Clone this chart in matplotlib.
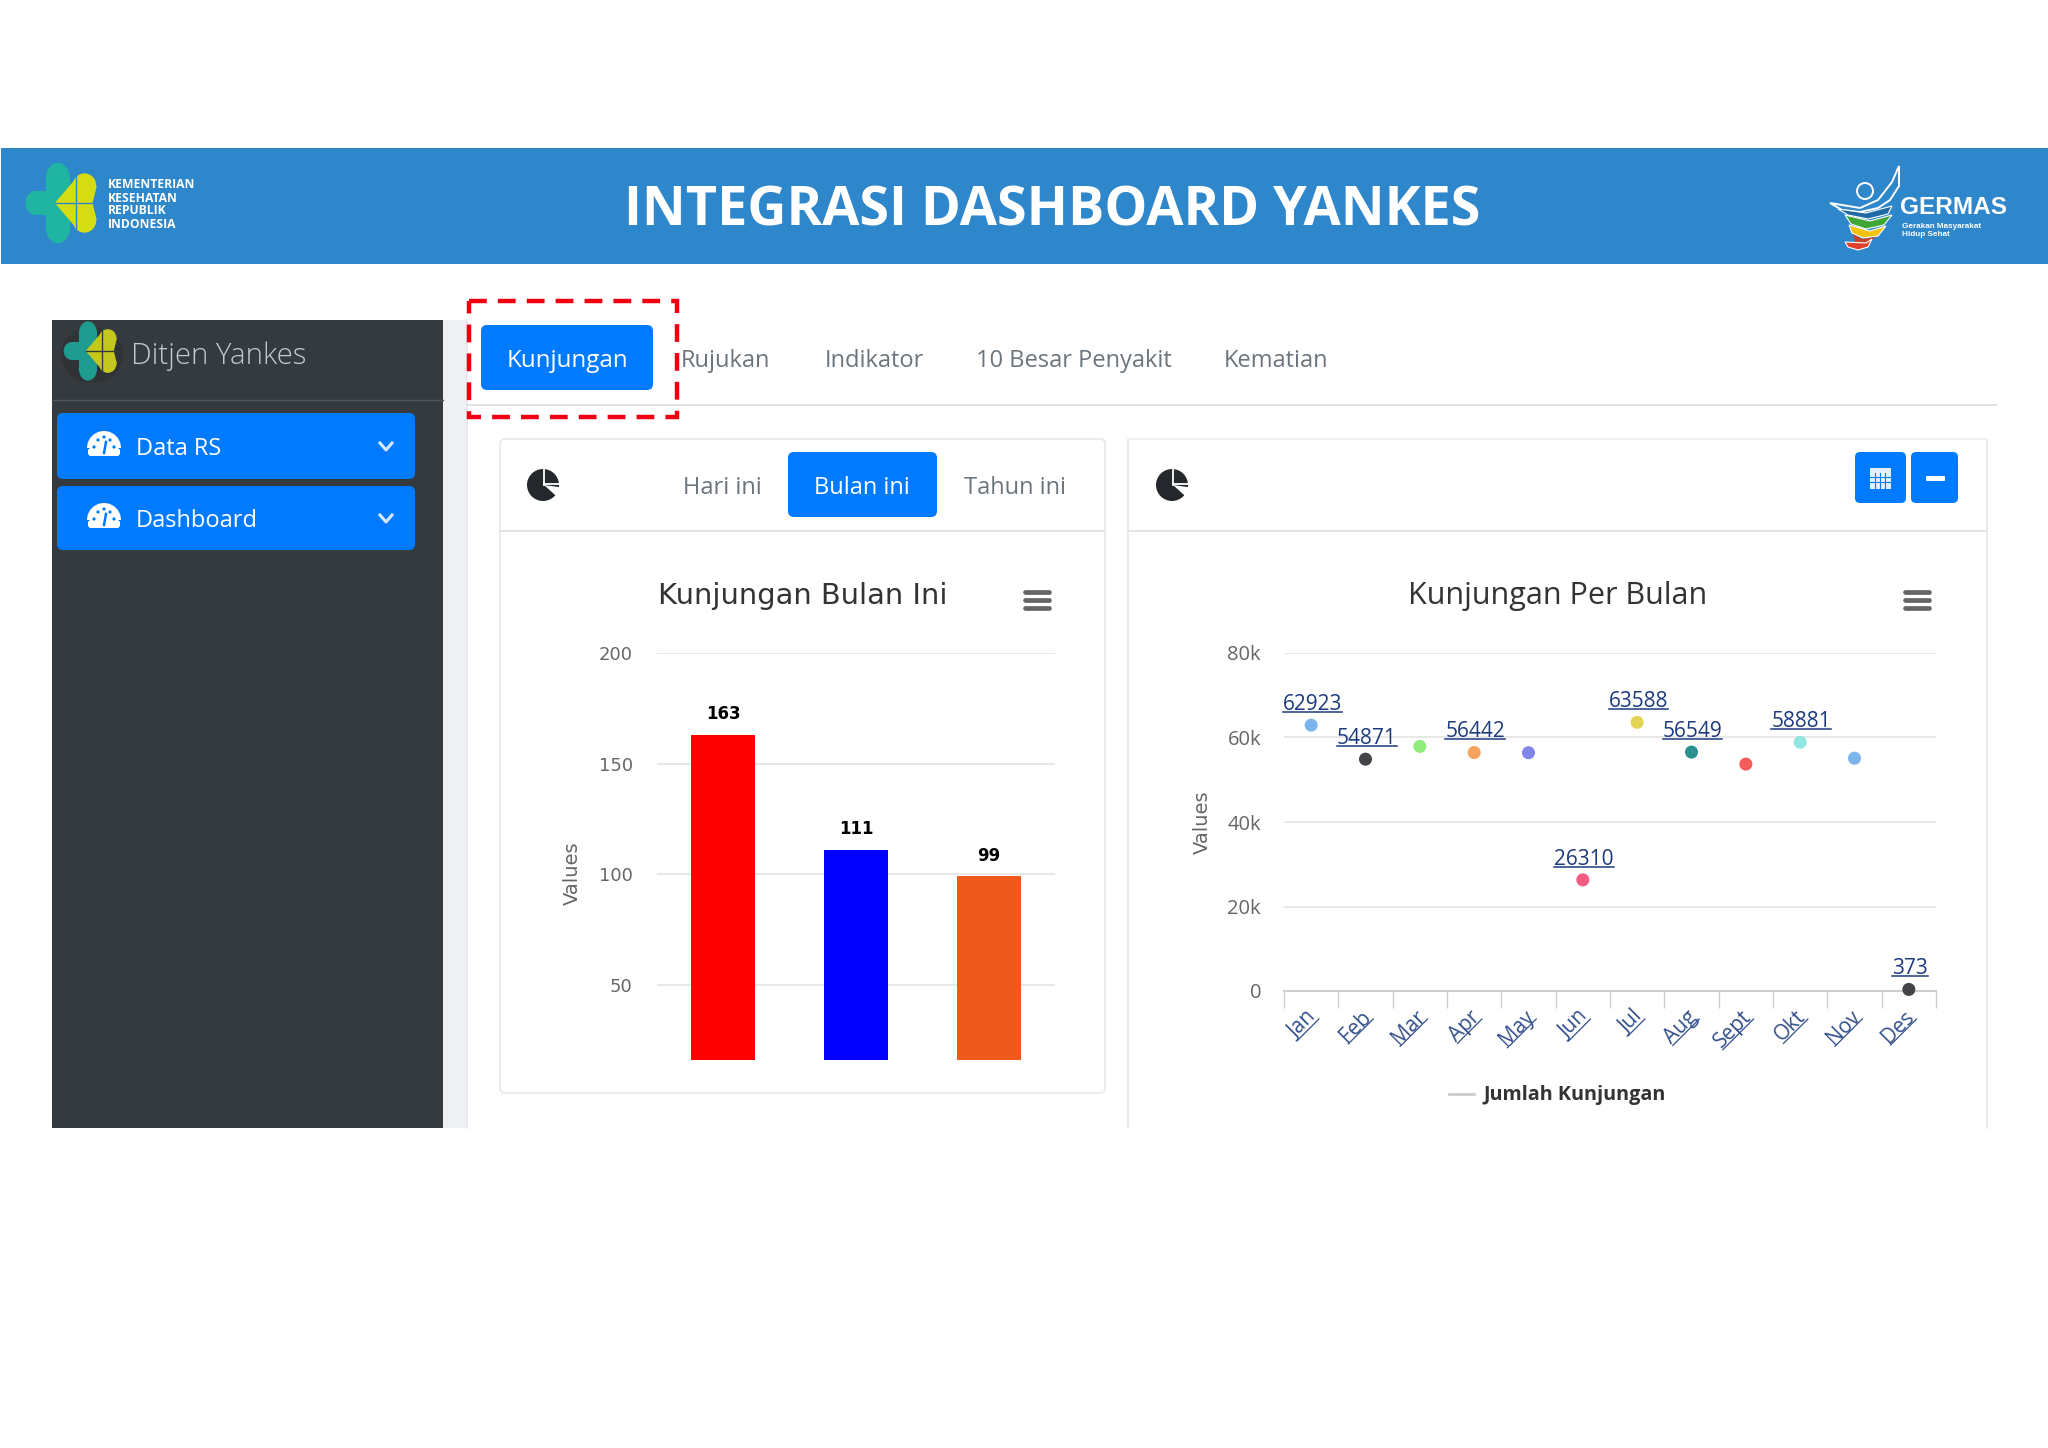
import numpy as np
import matplotlib
matplotlib.use("Agg")
import matplotlib.pyplot as plt
from matplotlib.lines import Line2D
from matplotlib.patches import Rectangle, FancyBboxPatch, Ellipse, Polygon, Wedge, Circle
from matplotlib.transforms import IdentityTransform, ScaledTranslation

# data
barValues = [163, 111, 99]
barColors = ["#ff0000", "#0000ff", "#ee5a1b"]
barTicks = [50, 100, 150, 200]

months = ["Jan", "Feb", "Mar", "Apr", "May", "Jun", "Jul", "Aug", "Sept", "Okt", "Nov", "Des"]
monthValues = [62923, 54871, 57900, 56442, 56400, 26310, 63588, 56549, 53700, 58881, 55100, 373]
monthLabelled = [True, True, False, True, False, True, True, True, False, True, False, True]
monthColors = ["#7cb5ec", "#434348", "#90ed7d", "#f7a35c", "#8085e9", "#f15c80",
               "#e4d354", "#2b908f", "#f45b5b", "#91e8e1", "#7cb5ec", "#434348"]
monthTicks = [0, 20000, 40000, 60000, 80000]
monthTickLabels = ["0", "20k", "40k", "60k", "80k"]

tabNames = ["Rujukan", "Indikator", "10 Besar Penyakit", "Kematian"]
tabCenters = [725, 874, 1074, 1276]

W, H = 2048, 1448
BLUE = "#007bff"
plt.rcParams["font.family"] = ["Open Sans", "DejaVu Sans"]

fig = plt.figure(figsize=(W / 100, H / 100), dpi=100, facecolor="white")

# whole page overlay in pixel coordinates, for the dashboard chrome
bg = fig.add_axes([0, 0, 1, 1])
bg.set_xlim(0, W)
bg.set_ylim(H, 0)
bg.axis("off")


def box(x0, y0, x1, y1, color, z=1, r=0, ec="none", lw=0):
    if r:
        p = FancyBboxPatch((x0 + r, y0 + r), x1 - x0 - 2 * r, y1 - y0 - 2 * r,
                           boxstyle=f"round,pad={r},rounding_size={r}", fc=color, ec=ec, lw=lw, zorder=z)
    else:
        p = Rectangle((x0, y0), x1 - x0, y1 - y0, fc=color, ec=ec, lw=lw, zorder=z)
    bg.add_patch(p)


def kemenkesLogo(cx, cy, sx, sy, teal="#1fb5a0", lime="#d6dc12", sep="#2e86cb"):
    # teal cross lobes then the lime leaf on top
    def X(v):
        return cx + v * sx

    def Y(v):
        return cy + v * sy
    bg.add_patch(Ellipse((X(-4), Y(-31)), 24 * sx, 44 * sy, fc=teal, zorder=3))
    bg.add_patch(Ellipse((X(-4), Y(31)), 24 * sx, 44 * sy, fc=teal, zorder=3))
    bg.add_patch(Rectangle((X(-16), Y(-30)), 24 * sx, 60 * sy, fc=teal, zorder=3))
    bg.add_patch(Ellipse((X(-25), Y(0)), 22 * sx, 32 * sy, fc=teal, zorder=3))
    bg.add_patch(Rectangle((X(-25), Y(-16)), 15 * sx, 32 * sy, fc=teal, zorder=3))
    bg.add_patch(Polygon([(X(-7), Y(0)), (X(14), Y(-33)), (X(24), Y(-38)), (X(34), Y(-22)),
                          (X(30), Y(0)), (X(34), Y(22)), (X(24), Y(38)), (X(14), Y(33))],
                         closed=True, fc=lime, zorder=4))
    bg.add_patch(Ellipse((X(22), Y(-23)), 23 * sx, 32 * sy, fc=lime, zorder=4))
    bg.add_patch(Ellipse((X(22), Y(23)), 23 * sx, 32 * sy, fc=lime, zorder=4))
    bg.plot([X(14), X(14)], [Y(-36), Y(36)], color=sep, lw=1.0, zorder=5)
    bg.plot([X(-7), X(34)], [Y(0), Y(0)], color=sep, lw=1.0, zorder=5)


def gaugeIcon(cx, cy):
    bg.add_patch(Wedge((cx, cy + 2), 17, 180, 360, fc="white", zorder=6))
    box(cx - 16, cy + 2, cx + 16, cy + 10, "white", z=6, r=3)
    for dx, dy in [(-10, 1), (-6, -6), (0, -9), (6, -6), (10, 1)]:
        bg.add_patch(Circle((cx + dx, cy + dy), 1.6, fc=BLUE, zorder=7))
    bg.plot([cx, cx + 2], [cy + 7, cy - 4], color=BLUE, lw=1.8, zorder=7)


def pieIcon(cx, cy):
    bg.add_patch(Circle((cx, cy), 16, fc="#24282c", zorder=6))
    bg.add_patch(Wedge((cx + 1, cy), 19, 8, 42, fc="white", zorder=7))
    bg.plot([cx + 1, cx + 1], [cy, cy - 17], color="white", lw=1.3, zorder=7)
    bg.plot([cx + 1, cx + 18], [cy - 1, cy - 1], color="white", lw=1.3, zorder=7)


def menuIcon(cx, cy):
    for dy in (-8, 0, 8):
        bg.plot([cx - 12, cx + 12], [cy + dy, cy + dy], color="#666666", lw=3.4,
                solid_capstyle="round", zorder=8)


def underline(t, renderer, color, lw=1.0, gap=-3.0):
    # matplotlib has no underlined text, so measure the label and rule under it
    rot = t.get_rotation()
    t.set_rotation(0)
    bb = t.get_window_extent(renderer)
    w, h = bb.width, bb.height
    t.set_rotation(rot)
    bb = t.get_window_extent(renderer)
    cx, cy = (bb.x0 + bb.x1) / 2, (bb.y0 + bb.y1) / 2
    a = np.radians(rot)
    d = np.array([np.cos(a), np.sin(a)])
    n = np.array([np.sin(a), -np.cos(a)])
    p0 = np.array([cx, cy]) - d * w / 2 + n * (h / 2 + gap)
    p1 = np.array([cx, cy]) + d * w / 2 + n * (h / 2 + gap)
    fig.add_artist(Line2D([p0[0], p1[0]], [p0[1], p1[1]], color=color, lw=lw, transform=IdentityTransform()))


# header band
box(1, 148, W, 264, "#2e86cb", z=1)
bg.text(1052, 211, "INTEGRASI DASHBOARD YANKES", color="white", fontsize=38.9, fontweight="bold",
        ha="center", va="center", zorder=5)
kemenkesLogo(62, 203, 1.02, 0.76)
for tY, tS in zip([184, 198, 211, 224], ["KEMENTERIAN", "KESEHATAN", "REPUBLIK", "INDONESIA"]):
    bg.text(108, tY, tS, color="white", fontsize=8.7, fontweight="bold", va="center", zorder=5)

# germas logo
bg.add_patch(Polygon([(1830, 203), (1860, 208), (1878, 200), (1892, 182), (1899, 166), (1899, 186),
                      (1890, 200), (1878, 208), (1860, 212), (1842, 210)],
                     closed=True, fc="#2e86cb", ec="white", lw=1.4, zorder=4))
bg.add_patch(Ellipse((1865, 191), 16, 16, fc="none", ec="white", lw=1.4, zorder=4))
bg.add_patch(Polygon([(1838, 209), (1866, 213), (1892, 206), (1888, 214), (1868, 219), (1848, 215)],
                     closed=True, fc="#1f6aa5", ec="white", lw=0.8, zorder=4))
bg.add_patch(Polygon([(1845, 215), (1870, 221), (1892, 215), (1884, 225), (1866, 229), (1851, 224)],
                     closed=True, fc="#3fa535", ec="white", lw=0.8, zorder=4))
bg.add_patch(Polygon([(1849, 225), (1870, 231), (1886, 226), (1878, 236), (1863, 238), (1852, 233)],
                     closed=True, fc="#f4c20d", ec="white", lw=0.8, zorder=4))
bg.add_patch(Polygon([(1853, 234), (1862, 239), (1876, 237), (1868, 243), (1855, 242)],
                     closed=True, fc="#c8412a", ec="none", zorder=4))
bg.add_patch(Polygon([(1845, 242), (1866, 243), (1872, 239), (1868, 247), (1858, 250), (1848, 247)],
                     closed=True, fc="#e0402a", ec="white", lw=0.8, zorder=4))
bg.text(1900, 208, "GERMAS", color="white", fontsize=17.6, fontweight="bold", va="center",
        family=["Liberation Sans", "DejaVu Sans"], zorder=5)
bg.text(1902, 226, "Gerakan Masyarakat", color="white", fontsize=5.9, fontweight="bold", va="center",
        family=["Liberation Sans", "DejaVu Sans"], zorder=5)
bg.text(1902, 235, "Hidup Sehat", color="white", fontsize=5.9, fontweight="bold", va="center",
        family=["Liberation Sans", "DejaVu Sans"], zorder=5)

# sidebar
box(443, 320, 467, 1128, "#eef0f3", z=1)
box(52, 320, 443, 1128, "#353a3f", z=2)
bg.plot([52, 443], [400, 400], color="#4b545c", lw=1, zorder=3)
bg.add_patch(Ellipse((92, 355), 62, 56, fc="#2f3336", zorder=3))
kemenkesLogo(91, 351, 0.76, 0.56, teal="#1e9c90", lime="#c4c81e", sep="#353a3f")
bg.text(131, 356, "Ditjen Yankes", color="#c2c7d0", fontsize=21.2, va="center", fontweight="light", zorder=4)
for y0, y1, name in [(413, 479, "Data RS"), (486, 550, "Dashboard")]:
    box(57, y0, 415, y1, BLUE, z=4, r=6)
    yc = (y0 + y1) / 2
    gaugeIcon(104, yc)
    bg.text(136, yc + 3, name, color="white", fontsize=17, va="center", zorder=6)
    bg.plot([380, 386, 392], [yc - 3, yc + 4, yc - 3], color="#d6e8ff", lw=2.2, zorder=6)

# tabs
bg.plot([467, 467], [320, 1128], color="#e4e6ea", lw=1.2, zorder=1)
bg.plot([467, 1996], [405, 405], color="#dee2e6", lw=1.4, zorder=1)
box(481, 325, 653, 390, BLUE, z=3, r=6)
bg.text(567, 361, "Kunjungan", color="white", fontsize=17.4, ha="center", va="center", zorder=5)
for tX, tS in zip(tabCenters, tabNames):
    bg.text(tX, 361, tS, color="#6c757d", fontsize=17, ha="center", va="center", zorder=5)
bg.add_patch(Rectangle((469, 301), 208, 116, fc="none", ec="#ee0010", lw=3.2, ls=(0, (4, 2.5)), zorder=6))

# cards
box(500, 439, 1105, 1093, "white", z=1, r=5, ec="#e9ebee", lw=1.4)
bg.plot([1128, 1128], [439, 1128], color="#e9ebee", lw=1.4, zorder=2)
bg.plot([1987, 1987], [439, 1128], color="#e9ebee", lw=1.4, zorder=2)
bg.plot([1128, 1987], [439, 439], color="#eff0f2", lw=1.4, zorder=2)
bg.plot([500, 1105], [531, 531], color="#e2e4e7", lw=1.4, zorder=2)
bg.plot([1128, 1987], [531, 531], color="#e2e4e7", lw=1.4, zorder=2)
pieIcon(543, 485)
pieIcon(1172, 485)
bg.text(722, 488, "Hari ini", color="#6c757d", fontsize=17, ha="center", va="center", zorder=5)
box(788, 452, 937, 517, BLUE, z=3, r=6)
bg.text(862, 488, "Bulan ini", color="white", fontsize=17, ha="center", va="center", zorder=5)
bg.text(1015, 488, "Tahun ini", color="#6c757d", fontsize=17, ha="center", va="center", zorder=5)

# calendar and minus buttons
box(1855, 452, 1906, 503, BLUE, z=3, r=5)
box(1911, 452, 1958, 503, BLUE, z=3, r=5)
box(1870, 468, 1891, 489, "#e4f0ff", z=4)
for gx in (1875, 1880, 1885):
    bg.plot([gx, gx], [473, 489], color=BLUE, lw=0.8, zorder=5)
for gy in (477, 482):
    bg.plot([1870, 1891], [gy, gy], color=BLUE, lw=0.8, zorder=5)
box(1926, 476, 1945, 481, "white", z=4, r=1)

menuIcon(1037, 600)
menuIcon(1917, 600)


def pxAxes(x0, y0, x1, y1):
    a = fig.add_axes([x0 / W, 1 - y1 / H, (x1 - x0) / W, (y1 - y0) / H])
    a.patch.set_alpha(0)
    for s in a.spines.values():
        s.set_visible(False)
    return a


# left chart, bars
ax1 = pxAxes(657, 653, 1055, 1060)
ax1.bar(range(len(barValues)), barValues, width=0.48, color=barColors, zorder=3)
ax1.set_xlim(-0.5, 2.5)
ax1.set_ylim(16, 200)
ax1.set_yticks(barTicks)
ax1.set_xticks([])
ax1.grid(axis="y", color="#e6e6e6", lw=1.3, zorder=0)
ax1.tick_params(axis="y", length=0, pad=17.5, labelsize=13, labelcolor="#666666")
for lb in ax1.get_yticklabels():
    lb.set_family("DejaVu Sans")
ax1.set_ylabel("Values", color="#666666", fontsize=14, family="DejaVu Sans", labelpad=12, y=0.46)
for i, v in enumerate(barValues):
    ax1.annotate(str(v), (i, v), xytext=(0, 15), textcoords="offset points", ha="center", va="center",
                 fontsize=12, fontweight="bold", color="black", family="DejaVu Sans")
bg.text(803, 596, "Kunjungan Bulan Ini", color="#333333", fontsize=20.8, ha="center", va="center",
        family="DejaVu Sans", zorder=5)

# right chart, points only, highcharts style
ax2 = pxAxes(1284, 653, 1936, 991)
xs = np.arange(len(months))
ax2.scatter(xs, monthValues, c=monthColors, s=88, zorder=4, clip_on=False, linewidths=0)
ax2.set_xlim(-0.5, 11.5)
ax2.set_ylim(0, 80000)
ax2.set_yticks(monthTicks)
ax2.set_yticklabels(monthTickLabels)
ax2.grid(axis="y", color="#e6e6e6", lw=1.3, zorder=0)
ax2.tick_params(axis="y", length=0, pad=16.5, labelsize=14.5, labelcolor="#666666")
ax2.set_xticks(xs)
ax2.set_xticklabels(months, rotation=45, ha="right", rotation_mode="anchor", fontsize=15, color="#33508c")
ax2.tick_params(axis="x", which="major", length=0, pad=11)
ax2.set_xticks(np.arange(-0.5, 12), minor=True)
ax2.tick_params(axis="x", which="minor", length=12, width=1, color="#cccccc")
ax2.spines["bottom"].set_visible(True)
ax2.spines["bottom"].set_color("#cccccc")
ax2.spines["bottom"].set_linewidth(1.4)
ax2.set_ylabel("Values", color="#666666", fontsize=14, family="DejaVu Sans", labelpad=11)
for lb in ax2.get_xticklabels():
    lb.set_transform(lb.get_transform() + ScaledTranslation(-5 / 100, 0, fig.dpi_scale_trans))
dataTexts = []
for i, v in enumerate(monthValues):
    if monthLabelled[i]:
        dataTexts.append(ax2.annotate(str(v), (i, v), xytext=(0.8, 15), textcoords="offset points",
                                      ha="center", va="center", fontsize=15, color="#1b3a7d"))
bg.text(1558, 596, "Kunjungan Per Bulan", color="#333333", fontsize=22, ha="center", va="center", zorder=5)

# legend
bg.plot([1449, 1474], [1094, 1094], color="#cccccc", lw=2, zorder=5)
bg.text(1483, 1095, "Jumlah Kunjungan", color="#333333", fontsize=14.2, fontweight="bold", va="center", zorder=5)

fig.canvas.draw()
renderer = fig.canvas.get_renderer()
for t in dataTexts:
    underline(t, renderer, "#1b3a7d", lw=1.1)
for t in ax2.get_xticklabels():
    underline(t, renderer, "#33508c", lw=0.9)

fig.savefig("out.png", dpi=100)
